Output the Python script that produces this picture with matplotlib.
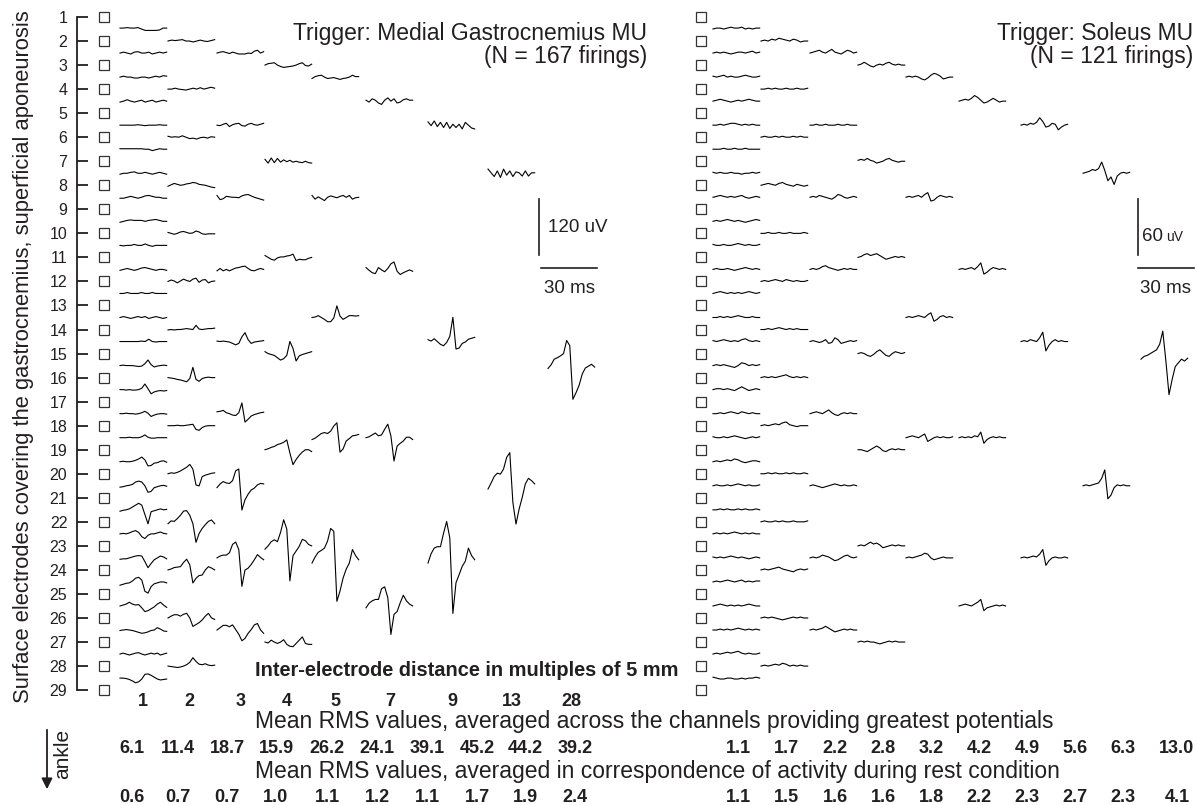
import matplotlib
matplotlib.use('Agg')
import matplotlib.pyplot as plt
import numpy as np

plt.rcParams['font.family'] = ['Liberation Sans', 'DejaVu Sans']
INK = '#231f20'

# ---------------- data ----------------
electrodes = list(range(1, 30))
ied = [1, 2, 3, 4, 5, 7, 9, 13, 28]          # inter-electrode distance (x 5 mm)
ied_labels = ['1', '2', '3', '4', '5', '7', '9', '13', '28']

mg_rms_active = [6.1, 11.4, 18.7, 15.9, 26.2, 24.1, 39.1, 45.2, 44.2, 39.2]
mg_rms_rest = [0.6, 0.7, 0.7, 1.0, 1.1, 1.2, 1.1, 1.7, 1.9, 2.4]
sol_rms_active = [1.1, 1.7, 2.2, 2.8, 3.2, 4.2, 4.9, 5.6, 6.3, 13.0]
sol_rms_rest = [1.1, 1.5, 1.6, 1.6, 1.8, 2.2, 2.3, 2.7, 2.3, 4.1]

# averaged potentials (uV), one list per differential channel, proximal -> distal
mg_d1 = [
    [2, 2, 3, 2, 2, 3, 0, -3, -3, -3, -3, -2, 2, 2],
    [0, 2, 0, -2, 2, 3, 0, 0, 2, -2, 0, 2, 0, 2],
    [0, 2, 0, 0, -2, -2, 0, 0, -2, 0, 2, 0, 3, 2],
    [-2, 0, 3, 0, -2, 0, 2, -2, 0, 2, -2, 0, 2, 0],
    [0, 0, 0, 0, 0, 1, 0, -1, 0, 0, 0, 1, 0, 0],
    [1, 1, 1, 1, 1, 1, 1, 0, 0, -3, -1, 1, 0, 0],
    [-2, 0, 0, 2, 3, 0, 0, 2, 0, -2, 0, 2, 0, -2],
    [-2, -2, 0, 2, 0, -2, 0, 3, 4, 2, 0, 0, -2, -2],
    [-2, 0, 2, 3, 2, 2, 2, 0, 2, 3, 4, 2, 0, 0],
    [0, -1, 0, 0, 2, 0, 0, 3, 0, -2, 0, 0, 0, 0],
    [-2, 0, 2, 0, -2, 0, 3, 4, 2, 0, -2, 0, 0, -2],
    [0, 0, 2, 0, 0, 0, 2, 0, 0, 2, 0, 0, 0, 0],
    [0, 2, 0, -2, 0, 2, 0, 2, -2, 0, 2, 0, -2, 0],
    [0, 0, 0, 0, 0, 0, 1, 0, 5, 0, -1, 0, 0, 0],
    [0, 1, 0, 0, 0, -1, -2, -1, 4, 12, 2, -3, -1, 0, 1, 0],
    [0, 0, -1, 0, -1, -1, 0, 3, 12, 2, -9, -5, -3, -2, -3, -2],
    [0, 0, 1, 0, 0, -1, 0, 2, 5, 1, -6, -3, -1, 0, 0, -1],
    [0, 0, 0, 1, 0, 0, 0, 2, 6, 1, -1, -1, 0, 0, 0, 0],
    [0, 1, 0, 0, 1, 3, 6, 10, 4, -9, -8, -3, -2, 1, 2, -1],
    [-3, -2, 0, 1, 3, 8, 10, 8, 0, -14, -12, -4, -2, 0, 1, -1],
    [-3, -1, 0, 2, 6, 10, 14, 10, -10, -30, -4, -2, 0, 2, 0, 1],
    [0, 1, 0, 2, 5, 7, 3, -6, -10, -3, 0, 0, 2, 4, 1, 0],
    [-3, -2, -2, 0, 2, 4, 5, 4, -8, -21, -12, -4, 0, 4, 2, -2],
    [-7, -5, -3, -2, 2, 8, 10, 4, -20, -24, -10, -4, -2, 0, 0, -2],
    [0, 2, 4, 8, 4, 2, 3, -4, -12, -10, -6, -2, 4, 8, 2, -3],
    [-1, 0, 1, 0, -1, -3, -5, -7, -6, -4, -1, 0, 5, 2, -2, -3],
    [0, 2, 0, -2, 0, 2, 3, 0, -2, 0, 2, 0, 2, -2, 0, 2],
    [0, 0, -1, -3, -6, -10, -8, -2, 8, 9, 6, 2, -2, -4, -3, -2],
]
mg_d2 = [
    [0, 2, 1, 2, 3, 0, 0, -2, 0, 2, 0, -1, 1, 3],
    [0, 0, 2, 0, -1, -2, 0, 2, 0, 3, 0, 2, 4, 2],
    [2, 0, 1, 0, 3, 0, -3, -2, -4, -1, 0, -2, 1, 0],
    [-2, 1, 4, 2, 0, 1, 3, 4, 6, 5, 2, 1, 0, -2, -4, -5],
    [2, 0, -2, 0, 3, 4, 2, 0, 1, 5, 3, -1, -2, -1, -1, -1],
    [0, 3, 1, -3, 1, 5, 2, 0, 5, 7, -2, 3, 4, -3, 0, 1],
    [-1, 0, -1, 0, 0, 1, 2, 1, 0, 9, 1, 0, 1, 2, 2, 3],
    [0, -1, -2, -4, -5, -7, -9, -2, 22, -4, -8, -2, 0, 1, 0, 0],
    [0, 0, 0, 1, 0, 0, 1, 2, 3, -8, -10, -4, -1, 0, 0, 0],
    [0, 2, 1, 3, 6, 10, 14, 20, 10, -24, -26, -6, -3, -1, 1, 2],
    [-4, 2, 1, 7, 14, 23, 24, 14, -4, -44, -25, -14, -6, 1, 4, -4],
    [0, 2, 5, 6, 7, 16, 23, 11, -28, -18, -12, -11, 0, 7, 4, 0],
    [0, 4, 7, 7, 4, 8, 10, 0, -18, -14, -10, -4, 4, 10, 0, -3],
    [0, -1, -2, -3, -2, 0, 3, 8, 18, 10, 4, 3, 5, 2, 1, 2],
]
mg_d3 = [
    [0, 2, 3, 1, -1, 2, 0, -2, -2, -2, 0, -1, 4, 6, 0, 3],
    [0, -1, 2, 4, -3, 1, 3, 4, -1, -2, 2, 4, 1, 0, 2, 4],
    [4, -5, -3, 2, 1, 0, 0, -1, 3, 5, 6, 3, 0, -2, -4, -6],
    [-3, 2, -3, 0, -3, 0, 3, 4, 6, 7, 2, -2, -3, 0, 2, 0],
    [1, 0, 1, 0, -1, -4, -7, -4, 10, 19, 4, -4, -1, 0, 1, 2],
    [4, 5, 7, 2, 0, -3, -4, 2, 23, -18, -12, -5, -2, 0, 2, 3],
    [-4, 4, 9, 6, 5, 11, 32, 36, -52, -30, -18, -9, -5, 2, 5, 4],
    [0, 4, 6, 6, 11, 29, 34, 18, -61, -26, -22, -14, -4, 7, 1, -4],
    [0, 5, 10, 10, 7, 11, 1, -9, -23, -18, -7, 1, 11, 14, 0, -7],
]
mg_d4 = [
    [0, 3, 4, 5, 0, -3, -5, -4, -3, -2, 0, 3, 5, -1, -2, 2],
    [4, -4, 7, -3, 6, -2, 3, -1, 2, -2, 0, -2, -3, 0, -3, -4],
    [4, 0, -4, -6, -1, 1, 1, 3, 4, 7, -7, -4, -5, -5, -2, 0],
    [4, 0, -2, -4, -9, -14, -11, -4, 26, 11, -16, -5, -2, 0, 2, 4],
    [0, 2, 5, 7, 11, 13, 16, 21, -7, -32, -21, -12, -5, 0, 0, -4],
    [-7, 0, 9, 13, 9, 29, 56, 36, -75, -21, -11, -1, 14, 11, 3, 0],
    [0, -2, 4, 0, -3, 0, 5, -5, -9, -10, -3, 4, 11, -3, -5, -5],
]
mg_d5 = [
    [-3, 1, 3, 4, 0, -3, -2, -1, -3, -5, -3, -2, 0, 4, 1, 1],
    [4, -4, 1, -3, -7, 0, 3, 1, -1, 2, 4, 0, 4, -4, -1, 0],
    [0, 1, 4, 0, -4, -9, -9, -1, 25, 3, -4, 0, 4, 4, 3, 4],
    [-4, -1, 4, 9, 11, 9, 14, 25, 32, -31, -24, -7, -2, 4, 5, 7],
    [-11, 2, 12, 16, 21, 36, 63, 57, -93, -71, -43, -24, -11, 18, 5, -4],
]
mg_d7 = [
    [2, -2, 5, 2, -4, -7, 2, 7, 0, 5, -4, -2, 3, 5, 2, 2],
    [4, -2, -7, -9, 4, -1, -5, 2, 12, 16, -4, -11, -7, -4, -1, -4],
    [0, 2, 6, 10, 4, 6, 18, 29, 4, -50, -18, -12, -7, 1, 1, -4],
    [-4, 6, 11, 14, 14, 37, 41, 18, -61, -18, -12, 7, 23, 11, 4, 0],
]
mg_d9 = [
    [7, -1, 9, -3, 6, -5, 6, -7, 2, -5, 2, -8, 6, 0, -6, -8],
    [4, 1, 6, 0, -6, -9, -2, 11, 52, -16, -14, -4, -1, 5, 7, 9],
    [-11, 9, 21, 24, 24, 53, 78, 43, -119, -53, -36, -18, -7, 21, 5, -4],
]
mg_d13 = [
    [9, 1, -7, 5, -9, 9, -4, 5, -7, 3, 1, -6, 5, -6, 1, 1],
    [-7, 6, 20, 27, 25, 36, 61, 71, -36, -82, -50, -25, 4, 16, 11, 4],
]
mg_d28 = [
    [-32, -24, -12, -9, -5, 0, 28, 17, -98, -84, -68, -44, -31, -27, -23, -29],
]

sol_d1 = [
    [0, 1, 1, 0, 1, 2, 1, 1, 2, 0, 1, 0, 1, 1],
    [0, 1, 0, 1, 0, -1, 0, 1, 1, 0, 1, 2, 0, 1],
    [1, 0, 1, 2, 0, 1, 0, 0, 1, 2, 1, 0, 0, 1],
    [0, 1, 2, 1, 0, -1, 0, 1, 0, 1, 2, 1, 0, 0],
    [0, 0, 1, 0, 1, 2, 2, 1, 0, 1, 0, 1, 0, 0],
    [0, 0, 0, 1, 0, 0, 1, 0, 0, 1, 0, 0, 0, 0],
    [1, 0, 1, 0, 0, 1, 0, 0, -1, 0, 0, 1, 0, 1],
    [0, 1, 2, 1, 0, 1, 0, 1, 2, 0, -1, 0, 1, 0],
    [0, 1, 0, 1, 2, 1, 0, 1, 0, -1, 0, 1, 2, 1],
    [1, 0, 0, 1, 0, 0, 1, 2, 1, 0, 1, 0, 0, 1],
    [0, 1, 0, 0, 1, 0, -1, 0, 1, 2, 1, 0, 1, 0],
    [0, 1, 2, 1, 0, 1, 0, 1, 0, 1, 2, 1, 0, 1],
    [0, 0, 1, 0, 1, 0, 1, 2, 1, 0, 0, 1, 0, 0],
    [1, 0, 1, 2, 1, 0, 1, 0, 2, 3, 1, 0, 1, 0],
    [0, 1, 0, 1, 0, -1, -2, 0, 3, 2, 0, 1, 0, 1],
    [0, 1, 1, 0, 1, 0, -1, 1, 3, 1, -1, 0, 1, 0],
    [0, 0, 1, 0, 1, 2, 1, 0, 2, 1, 0, 1, 0, 0],
    [1, 0, 0, 1, 0, 1, 2, 1, 0, -1, 0, 1, 0, 1],
    [0, 1, 0, 1, 2, 1, 3, 2, 0, -1, 0, 1, 1, 0],
    [0, 1, 0, 0, 1, 0, 1, 2, 1, 0, 1, 0, 0, 1],
    [0, 0, 1, 0, 1, 0, 0, 1, 0, 1, 0, 0, 1, 0],
    [0, 1, 0, 1, 0, 1, 2, 1, 0, 1, 0, 1, 0, 0],
    [1, 0, 1, 0, 1, 2, 1, 0, 1, 0, -1, 0, 1, 0],
    [0, 1, 0, 1, 2, 1, 0, 1, 2, 0, 1, 0, 1, 1],
    [0, 1, 2, 1, 0, 1, 0, 1, 0, 1, 2, 1, 0, 0],
    [0, 0, 1, 0, 1, 0, 1, 2, 1, 0, 1, 0, 1, 0],
    [0, 1, 0, 1, 2, 1, 2, 3, 1, 0, 1, 0, 0, 1],
    [1, 0, -1, -1, 0, 0, -1, -1, 0, -1, 0, 0, 1, 0],
]
sol_d2 = [
    [0, 1, 0, 2, 1, 3, 2, 1, 0, 2, 1, -1, 0, 0],
    [0, 0, 1, 0, 1, 0, 0, 1, 0, 0, 1, 0, 0, 1],
    [0, 1, 0, 0, 1, 0, 1, 0, 0, 1, 0, 1, 0, 0],
    [0, 1, 2, 1, 0, 2, 3, 1, 0, -1, 1, 0, -1, 0],
    [0, 0, 1, 0, 0, 1, 0, 0, 1, 0, 0, 0, 1, 0],
    [0, 1, 0, 1, 2, 1, 0, 2, 1, 0, 1, 0, 0, 1],
    [0, 0, 1, 0, 1, 2, 1, 0, 1, 0, 1, 0, 0, 0],
    [0, 1, 0, 1, 0, 1, 2, 3, 1, 0, 1, 0, 1, 0],
    [0, 1, 0, 1, 2, 1, 3, 4, 1, 0, -1, 0, 0, 0],
    [0, 0, 1, 0, 1, 0, 0, 1, 0, 1, 0, 0, 1, 0],
    [0, 1, 0, 0, 1, 0, 1, 0, 0, 1, 0, 0, 0, 1],
    [0, 1, 0, 1, 2, 3, 1, 0, -1, -2, 0, 1, 0, 1],
    [0, 1, 0, 1, 0, -1, -2, -1, 0, 1, 0, 1, 0, 0],
    [0, 1, 0, 1, 2, 1, 3, 2, 0, 1, 0, 1, 0, 0],
]
sol_d3 = [
    [0, 1, 2, 3, 1, 0, 2, 4, 1, 0, -1, 1, 3, 2, 0, 1],
    [0, 0, 1, 0, 0, 1, 0, 0, 0, 1, 0, 0, 1, 0, 0, 0],
    [0, 1, 0, 2, 1, 0, -1, -2, 0, 3, 2, 0, -1, 0, 1, 0],
    [0, 1, 0, 1, 3, 4, 2, 1, 0, -1, 0, 1, 0, 1, 0, 0],
    [0, 1, 0, -1, 0, 2, -2, -1, 4, 2, -2, -1, 0, 1, 0, 1],
    [0, 1, 2, 1, 0, 2, 4, 1, -1, -2, 0, 1, 0, 1, 0, 0],
    [0, 1, 0, -1, -2, -1, 0, 1, 2, 1, 0, 1, 0, 0, 1, 0],
    [0, 1, 0, 1, 3, 2, 1, -1, -3, -2, 0, 2, 3, 1, 0, 1],
    [0, 1, 0, 1, 2, 4, 2, 0, -2, -1, 0, 1, 0, 1, 0, 0],
]
sol_d4 = [
    [0, 1, 3, 1, -1, -2, 0, 1, 0, 2, 3, 1, 0, 1, 0, 0],
    [1, 2, 1, 3, 1, 0, -2, -1, 0, 2, 3, 1, 0, -1, 0, 0],
    [0, 1, 3, 4, 2, 3, 4, 2, 0, -2, -1, 0, 1, 0, 1, 0],
    [0, 1, 0, -2, -3, -1, 2, 4, 1, -2, -3, 0, 2, 1, 0, 1],
    [0, 0, -1, -2, 0, 2, 4, 2, -1, -2, 0, 1, 0, 1, 0, 0],
    [0, 1, 0, 2, 4, 2, 3, 1, -2, -1, 0, 1, 0, 1, 0, 0],
    [0, 1, 0, 1, 0, 0, -1, -2, -1, 0, 1, 0, 1, 0, 0, 0],
]
sol_d5 = [
    [0, 1, 0, 1, 0, -2, -3, -1, 2, 4, 3, 1, -2, -1, 0, 0],
    [0, 1, 0, 1, 2, 0, 3, 5, -4, -3, 0, 2, 1, 0, 1, 0],
    [0, 1, 0, 1, 2, 1, 0, 3, 5, -4, -2, 1, 2, 0, 1, 0],
    [0, 1, 2, 1, 0, 2, 4, -4, -2, 0, 1, 0, 1, 0, 0, 1],
    [0, 1, 0, 1, 2, 3, 5, 4, 0, -2, -1, 0, 1, 0, 0, 0],
]
sol_d7 = [
    [0, 1, 2, 1, 3, 6, 4, 1, -2, -1, 1, 3, 1, -1, 0, 0],
    [0, 1, 0, 1, 2, 0, 3, 7, -5, -3, 0, 2, 1, 0, 1, 0],
    [0, 1, 0, 1, 0, 2, 1, 6, -6, -2, 0, 1, 0, 1, 0, 0],
    [0, 1, 2, 1, 0, 2, 4, 7, -5, -2, -1, 0, 1, 0, 1, 0],
]
sol_d9 = [
    [0, 1, 0, 2, 1, 3, 8, 4, -2, -1, 2, 1, -5, -2, 0, 1],
    [0, 1, 0, 2, 1, 0, 4, 10, -10, -4, 0, 2, 0, 1, 0, 0],
    [0, 1, 0, 1, 2, 1, 4, 9, -8, -3, 0, 1, 0, 0, 1, 0],
]
sol_d13 = [
    [0, 1, 2, 4, 3, 5, 12, 3, -8, -4, -12, -3, 0, 1, 0, 1],
    [0, 1, 0, 1, 2, 3, 8, 17, -14, -10, -2, 1, 0, 1, 0, 0],
]
sol_d28 = [
    [-6, -3, -2, 0, 2, 4, 10, 24, -8, -44, -28, -14, -10, -6, -8, -5],
]

# ---------------- layout ----------------
W, H = 1197, 805
E1_PX, E_STEP = 17.0, 24.04          # y of electrode 1 and spacing (px)
PX_PER_MS = 56 / 30.0                 # 30 ms bar = 56 px
TRACE_MS = 25.0
BAR_PX = 56.0
mg_uv_px = BAR_PX / 120.0              # 120 uV bar
sol_uv_px = BAR_PX / 60.0              # 60 uV bar

mg_col_x = [120, 168, 217, 265, 312, 366, 428, 488, 548]
sol_col_x = [713, 761, 810, 858, 906, 959, 1021, 1083, 1141]
mg_rms_x = [132, 178, 227, 276, 327, 377, 427, 477, 525, 575]
sol_rms_x = [738, 786, 835, 883, 931, 979, 1027, 1075, 1123, 1177]
col_label_x = [143, 189, 241, 287, 335, 390, 452, 512, 571]


def ey(e):
    return E1_PX + (np.asarray(e, float) - 1) * E_STEP


fig = plt.figure(figsize=(W / 100, H / 100), dpi=100)
ax = fig.add_axes([0, 0, 1, 1])
ax.set_xlim(0, W)
ax.set_ylim(H, 0)
for s in ['top', 'right', 'bottom']:
    ax.spines[s].set_visible(False)
ax.spines['left'].set_position(('data', 77))
ax.spines['left'].set_bounds(ey(1), ey(29))
ax.spines['left'].set_linewidth(1.3)
ax.spines['left'].set_color(INK)
ax.set_xticks([])
ax.set_yticks(ey(electrodes), [str(e) for e in electrodes])
ax.tick_params(axis='y', direction='in', length=8, width=1.3, pad=7,
               labelsize=11.5, color=INK, labelcolor=INK)
ax.patch.set_alpha(0)

# electrode squares
for xs in (104, 701):
    ax.plot([xs] * len(electrodes), ey(electrodes), 's', ms=7.2,
            mfc='white', mec='#333333', mew=0.9, ls='none')


def draw_panel(cols, col_x, uv_px):
    for d, x0, traces in zip(ied, col_x, cols):
        for k, vals in enumerate(traces):
            mid = 1 + d * k + d / 2.0
            v = np.asarray(vals, float)
            t = np.linspace(0, TRACE_MS, len(v))
            ax.plot(x0 + t * PX_PER_MS, ey(mid) - v * uv_px, color='black', lw=0.8)


draw_panel([mg_d1, mg_d2, mg_d3, mg_d4, mg_d5, mg_d7, mg_d9, mg_d13, mg_d28], mg_col_x, mg_uv_px)
draw_panel([sol_d1, sol_d2, sol_d3, sol_d4, sol_d5, sol_d7, sol_d9, sol_d13, sol_d28], sol_col_x, sol_uv_px)

# scale bars
ax.plot([539, 539], [199, 199 + 120 * mg_uv_px], color=INK, lw=1.2)
ax.plot([541, 541 + 30 * PX_PER_MS], [268, 268], color=INK, lw=1.2)
ax.text(548, 227, '120 uV', fontsize=13.5, color=INK, va='center', ha='left')
ax.text(569, 288, '30 ms', fontsize=13.5, color=INK, va='center', ha='center')
ax.plot([1138, 1138], [199, 199 + 60 * sol_uv_px], color=INK, lw=1.2)
ax.plot([1138, 1138 + 30 * PX_PER_MS], [268, 268], color=INK, lw=1.2)
ax.text(1142, 236, '60', fontsize=13.5, color=INK, va='center', ha='left')
ax.text(1166, 237, 'uV', fontsize=10, color=INK, va='center', ha='left')
ax.text(1166, 288, '30 ms', fontsize=13.5, color=INK, va='center', ha='center')

# titles
ax.text(647, 40, 'Trigger: Medial Gastrocnemius MU', fontsize=16.5, color=INK, ha='right', va='baseline')
ax.text(647, 63, '(N = 167 firings)', fontsize=16.5, color=INK, ha='right', va='baseline')
ax.text(1193, 40, 'Trigger: Soleus MU', fontsize=16.5, color=INK, ha='right', va='baseline')
ax.text(1193, 63, '(N = 121 firings)', fontsize=16.5, color=INK, ha='right', va='baseline')

# y label and ankle arrow
ax.text(24, 357, 'Surface electrodes covering the gastrocnemius, superficial aponeurosis',
        rotation=90, fontsize=15.8, color=INK, ha='center', va='center')
ax.text(63, 754, 'ankle', rotation=90, fontsize=15, color=INK, ha='center', va='center')
ax.annotate('', xy=(47, 792), xytext=(47, 727),
            arrowprops=dict(arrowstyle='-|>', color=INK, lw=1.3, mutation_scale=16))

# column labels and bottom text
for x, lab in zip(col_label_x, ied_labels):
    ax.text(x, 701, lab, fontsize=13, fontweight='bold', color=INK, ha='center', va='center')
ax.text(255, 670, 'Inter-electrode distance in multiples of 5 mm', fontsize=14.4,
        fontweight='bold', color=INK, ha='left', va='center')
ax.text(255, 721, 'Mean RMS values, averaged across the channels providing greatest potentials',
        fontsize=16.5, color=INK, ha='left', va='center')
ax.text(255, 771, 'Mean RMS values, averaged in correspondence of activity during rest condition',
        fontsize=16.5, color=INK, ha='left', va='center')
for xs, vals, y in ((mg_rms_x, mg_rms_active, 748), (sol_rms_x, sol_rms_active, 748),
                    (mg_rms_x, mg_rms_rest, 797), (sol_rms_x, sol_rms_rest, 797)):
    for x, v in zip(xs, vals):
        ax.text(x, y, f'{v:.1f}', fontsize=13, fontweight='bold', color=INK, ha='center', va='center')

fig.savefig('out.png', dpi=100)
